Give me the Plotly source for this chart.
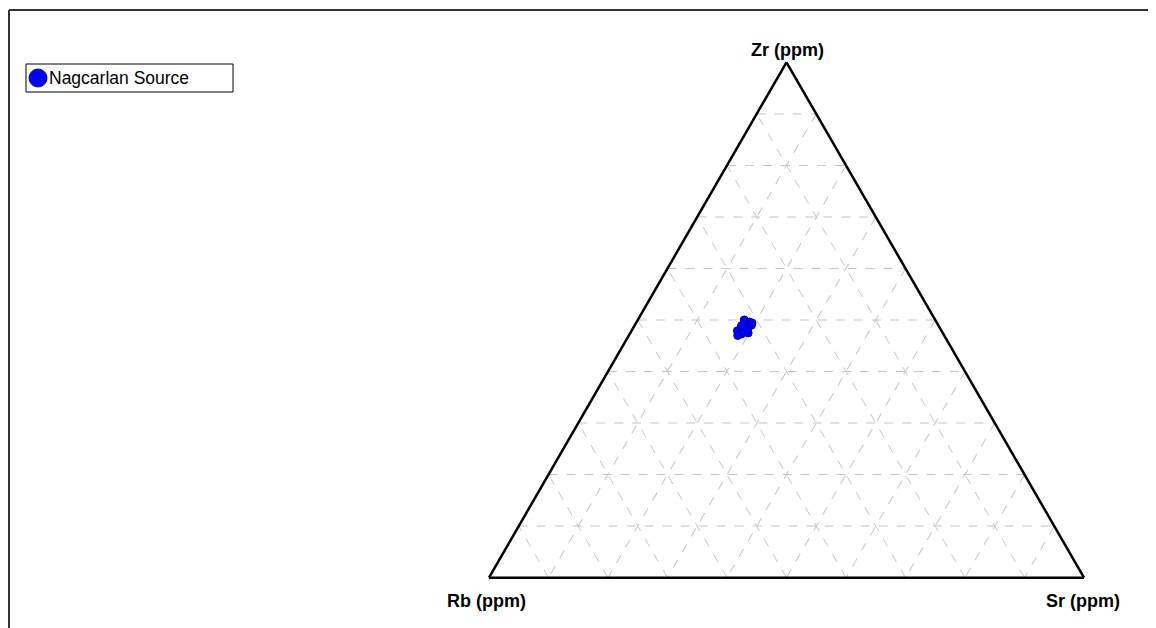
import plotly.graph_objects as go

series_name = "Nagcarlan Source"
# Values (normalised, percent of Rb+Sr+Zr)
zr_vals = [50.0, 49.6, 49.0, 48.6, 48.5, 47.9, 47.3, 47.5, 47.0, 48.1, 49.4, 48.9]
rb_vals = [32.1, 31.4, 31.4, 32.2, 33.4, 34.3, 33.9, 32.7, 34.7, 32.5, 31.1, 33.1]
sr_vals = [100 - z - r for z, r in zip(zr_vals, rb_vals)]
axis_titles = {"a": "Zr (ppm)", "b": "Rb (ppm)", "c": "Sr (ppm)"}

W, H = 1156, 628
OFF = 8  # page body margin: screen px = figure px + OFF


def px(x):
    return (x - OFF) / W


def py(y):
    return 1 - (y - OFF) / H


# triangle corners on screen
TL, TR, TB, TT = 489, 1084, 578, 62
FONT = "Arial, Liberation Sans, sans-serif"

fig = go.Figure()
fig.add_trace(go.Scatterternary(
    a=zr_vals, b=rb_vals, c=sr_vals, mode="markers",
    marker=dict(size=8, color="#0000ff", line=dict(color="#0000b0", width=1)),
    name=series_name, showlegend=False,
))


def ax():
    return dict(
        title=dict(text=""),
        showticklabels=False, ticks="", linecolor="#000", linewidth=2.5,
        showgrid=True, gridcolor="#c4c4c4", griddash="dash", gridwidth=1,
        dtick=10, min=0,
    )


annotations = [
    dict(text=f"<b>{axis_titles['a']}</b>", x=px((TL + TR) / 2 + 1), y=py(TT - 12),
         xanchor="center", yanchor="middle"),
    dict(text=f"<b>{axis_titles['b']}</b>", x=px(TL - 3), y=py(TB + 23),
         xanchor="center", yanchor="middle"),
    dict(text=f"<b>{axis_titles['c']}</b>", x=px(TR - 1), y=py(TB + 23),
         xanchor="center", yanchor="middle"),
]
for a in annotations:
    a.update(xref="paper", yref="paper", showarrow=False,
             font=dict(family=FONT, size=18, color="#000"))
annotations.append(dict(
    text=series_name, x=px(47), y=py(78), xref="paper", yref="paper",
    xanchor="left", yanchor="middle", showarrow=False,
    font=dict(family=FONT, size=17.5, color="#000")))

fig.update_layout(
    width=W, height=H, margin=dict(l=0, r=0, t=0, b=0),
    paper_bgcolor="white",
    font=dict(family=FONT, color="#000"),
    showlegend=False,
    ternary=dict(
        sum=100, bgcolor="white",
        domain=dict(x=[px(TL), px(TR)], y=[py(TB), py(TT)]),
        aaxis=ax(), baxis=ax(), caxis=ax(),
    ),
    annotations=annotations,
    shapes=[
        # legend box and symbol
        dict(type="rect", xref="paper", yref="paper",
             x0=px(26), x1=px(233), y0=py(92), y1=py(64),
             line=dict(color="#000", width=1)),
        dict(type="circle", xref="paper", yref="paper",
             x0=px(29), x1=px(47), y0=py(87), y1=py(69),
             fillcolor="#0000ff", line=dict(color="#0000d0", width=1)),
        # frame
        dict(type="line", xref="paper", yref="paper",
             x0=px(9), x1=1, y0=py(10), y1=py(10),
             line=dict(color="#333", width=2)),
        dict(type="line", xref="paper", yref="paper",
             x0=px(9), x1=px(9), y0=0, y1=py(10),
             line=dict(color="#333", width=2)),
    ],
)

fig.write_html("out.html")
